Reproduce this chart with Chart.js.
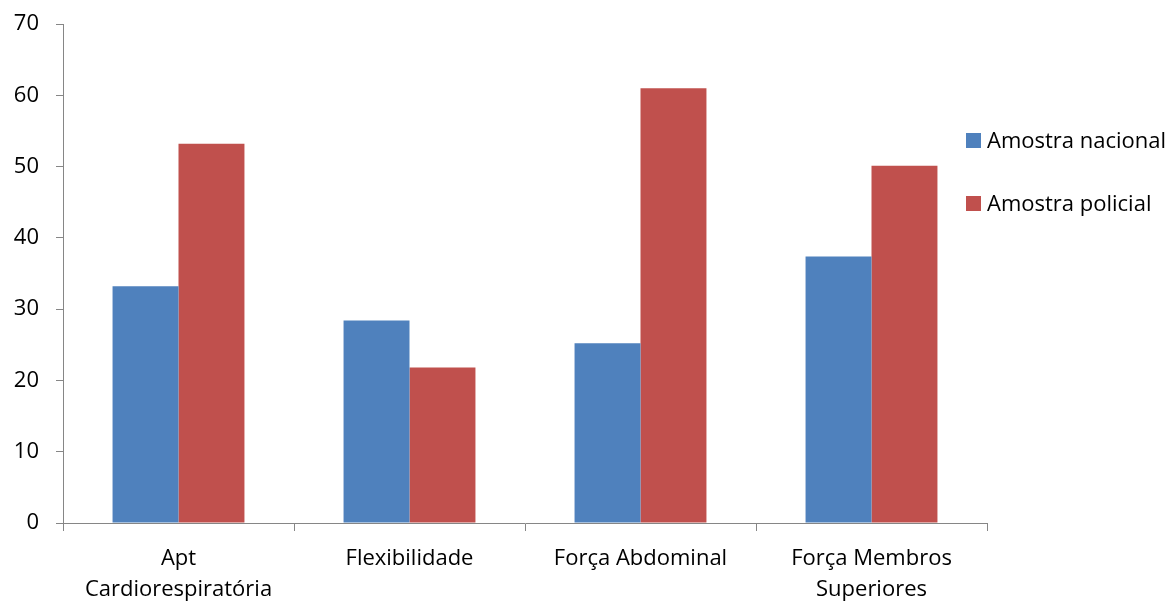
<!DOCTYPE html>
<html>
<head>
<meta charset="utf-8">
<script src="https://cdn.jsdelivr.net/npm/chart.js@4"></script>
<style>
  html, body { margin: 0; padding: 0; background: #ffffff; }
  #wrap { width: 1176px; height: 602px; }
</style>
</head>
<body>
<div id="wrap"><canvas id="chart" width="1176" height="602"></canvas></div>
<script>
// Categories (multi-line labels) and series values
const categories = [
  ['Apt', 'Cardiorespiratória'],
  'Flexibilidade',
  'Força Abdominal',
  ['Força Membros', 'Superiores']
];
const seriesNames = ['Amostra nacional', 'Amostra policial'];
const nacional = [33.2, 28.4, 25.2, 37.4];
const policial = [53.2, 21.8, 61.0, 50.1];
const yTicks = [0, 10, 20, 30, 40, 50, 60, 70];

const FONT = '"Open Sans", "Noto Sans", sans-serif';
const AXIS = '#868686';
const COLORS = ['#4F81BD', '#C0504D'];

// Legend drawn at the right of the plot, square swatches followed by the series name
const sideLegend = {
  id: 'sideLegend',
  afterDraw(chart) {
    const ctx = chart.ctx;
    const rows = [148, 211];
    ctx.save();
    ctx.font = '22px ' + FONT;
    ctx.textBaseline = 'alphabetic';
    ctx.textAlign = 'left';
    chart.data.datasets.forEach((ds, i) => {
      const base = rows[i];
      ctx.fillStyle = ds.backgroundColor;
      ctx.fillRect(966, base - 15, 15, 15);
      ctx.fillStyle = '#000000';
      ctx.fillText(ds.label, 987, base);
    });
    ctx.restore();
  }
};

new Chart(document.getElementById('chart'), {
  type: 'bar',
  data: {
    labels: categories,
    datasets: [
      { label: seriesNames[0], data: nacional, backgroundColor: COLORS[0] },
      { label: seriesNames[1], data: policial, backgroundColor: COLORS[1] }
    ]
  },
  options: {
    responsive: false,
    devicePixelRatio: 1,
    animation: false,
    layout: { padding: { top: 24, right: 189, left: 0, bottom: 0 } },
    datasets: { bar: { categoryPercentage: 0.571, barPercentage: 1.0 } },
    plugins: {
      legend: { display: false },
      tooltip: { enabled: false }
    },
    scales: {
      x: {
        grid: { offset: true, drawOnChartArea: false, drawTicks: true, tickLength: 8, color: AXIS, lineWidth: 1 },
        border: { color: AXIS, width: 1 },
        ticks: { color: '#000000', padding: 12, maxRotation: 0, autoSkip: false,
                 font: { family: FONT, size: 22, lineHeight: 1.42 } },
        afterFit(scale) {
          scale.height = 79;
          scale.paddingLeft = 0;
          scale.paddingRight = 0;
        }
      },
      y: {
        min: 0, max: 70,
        afterBuildTicks(scale) { scale.ticks = yTicks.map(v => ({ value: v })); },
        grid: { drawOnChartArea: false, drawTicks: true, tickLength: 7, color: AXIS, lineWidth: 1 },
        border: { color: AXIS, width: 1 },
        ticks: { color: '#000000', padding: 17, font: { family: FONT, size: 22 } },
        afterFit(scale) {
          scale.width = 63;
          scale.paddingTop = 0;
          scale.paddingBottom = 0;
        }
      }
    }
  },
  plugins: [sideLegend]
});
</script>
</body>
</html>
